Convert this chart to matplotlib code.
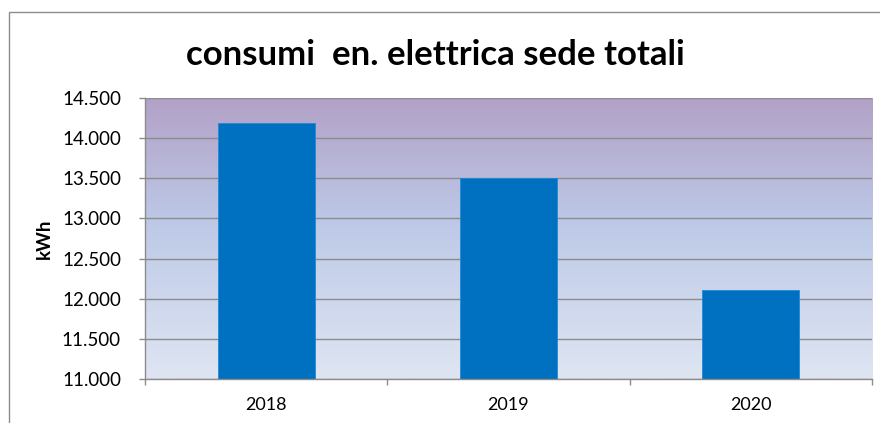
import matplotlib
matplotlib.use("Agg")
import matplotlib.pyplot as plt
import numpy as np
from matplotlib.colors import LinearSegmentedColormap
from matplotlib.patches import Rectangle
from matplotlib.ticker import FuncFormatter, FixedLocator

categories = ["2018", "2019", "2020"]
values = [14185, 13505, 12110]
title = "consumi  en. elettrica sede totali"
ylabel = "kWh"
y_min, y_max, y_step = 11000, 14500, 500

plt.rcParams['font.family'] = ['Lato', 'DejaVu Sans']

fig = plt.figure(figsize=(8.8, 4.23), dpi=100)
fig.patch.set_facecolor("white")
ax = fig.add_axes([145/880, 1-379/423, (872-145)/880, (379-98)/423])

# gradient background
cmap = LinearSegmentedColormap.from_list(
    "bg", [(0.0, "#DFE5F2"), (0.55, "#BDC9E7"), (1.0, "#B2A1C7")])
grad = np.linspace(0, 1, 256).reshape(-1, 1)
x = np.arange(len(categories))
ax.imshow(grad, aspect="auto", cmap=cmap, origin="lower",
          extent=(-0.5, len(categories)-0.5, y_min, y_max), zorder=0)

ax.bar(x, np.array(values) - y_min, bottom=y_min, width=0.4,
       color="#0070C0", edgecolor="#1F8AD6", linewidth=0.6, zorder=3)

ax.set_xlim(-0.5, len(categories)-0.5)
ax.set_ylim(y_min, y_max)
yt = np.arange(y_min, y_max + 1, y_step)
ax.set_yticks(yt)
ax.yaxis.set_major_formatter(FuncFormatter(lambda v, p: f"{int(v):,}".replace(",", ".")))
ax.grid(axis="y", color="#8C8C8C", linewidth=1.0, zorder=1)
ax.set_axisbelow(False)

ax.set_xticks(x)
ax.set_xticklabels(categories)
ax.xaxis.set_minor_locator(FixedLocator(np.arange(-0.5, len(categories), 1.0)))
ax.tick_params(axis="x", which="major", length=0, pad=13, labelsize=13)
ax.tick_params(axis="x", which="minor", length=4.3, color="#8C8C8C", width=1)
ax.tick_params(axis="y", length=4.3, color="#8C8C8C", width=1, pad=13, labelsize=13.5)

for s in ["top", "right"]:
    ax.spines[s].set_visible(False)
for s in ["left", "bottom"]:
    ax.spines[s].set_color("#8C8C8C")
    ax.spines[s].set_linewidth(1.0)
    ax.spines[s].set_zorder(4)

ax.set_ylabel(ylabel, fontsize=13.5, fontweight="bold")
ax.yaxis.set_label_coords(-92/727, 0.5)

fig.text(435/880, 1-55/423, title, fontsize=25, fontweight="bold",
         ha="center", va="center")

fig.patches.append(Rectangle((9/880, -0.1), 1.2, 1.1 - 12/423 + 0.0,
                             transform=fig.transFigure, fill=False,
                             edgecolor="#8C8C8C", linewidth=1.0))

fig.savefig("out.png", dpi=100)
